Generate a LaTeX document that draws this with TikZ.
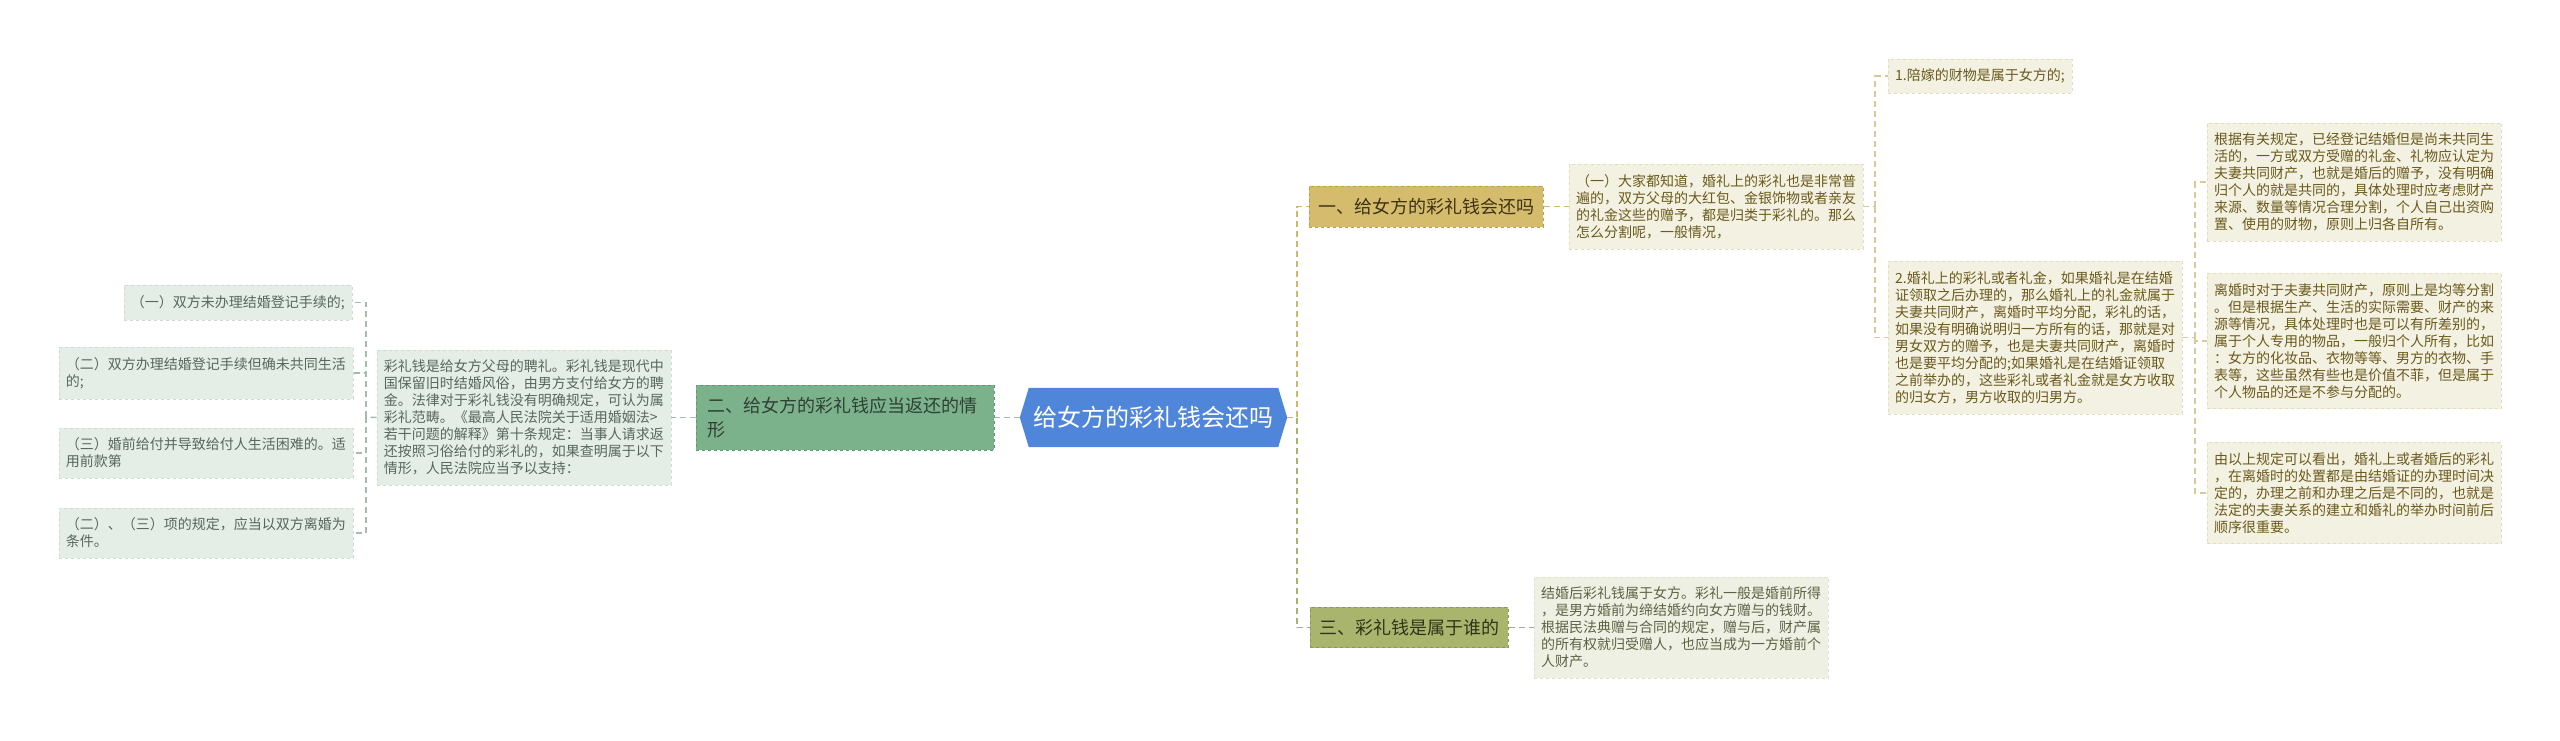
\documentclass[tikz,border=0pt]{standalone}
\usepackage{fontspec}
\usepackage{xcolor}
\usepackage{tikz}
\usetikzlibrary{positioning,backgrounds}
\newfontfamily\cjk{Noto Sans CJK SC}
\definecolor{tblue}{HTML}{4F86DA}
\definecolor{tgreen}{HTML}{7BB28C}
\definecolor{tgreenD}{HTML}{5E9870}
\definecolor{tgreenT}{HTML}{2F4034}
\definecolor{tgold}{HTML}{D5BC6C}
\definecolor{tgoldD}{HTML}{B99E4E}
\definecolor{tgoldT}{HTML}{3D3116}
\definecolor{tolive}{HTML}{A9B46C}
\definecolor{toliveD}{HTML}{8C9750}
\definecolor{toliveT}{HTML}{2F3419}
\definecolor{tmint}{HTML}{E5EDE7}
\definecolor{tmintD}{HTML}{CCDCD1}
\definecolor{tmintT}{HTML}{56685B}
\definecolor{tsand}{HTML}{F3F1E2}
\definecolor{tsandD}{HTML}{E3DDBE}
\definecolor{tsandT}{HTML}{6B5A1C}
\definecolor{tpale}{HTML}{EFF0E4}
\definecolor{tpaleD}{HTML}{DFE1CC}
\definecolor{tpaleT}{HTML}{5C6343}
\definecolor{tlnG}{HTML}{A3BDAA}
\definecolor{tlnY}{HTML}{CDB86E}
\definecolor{tlnO}{HTML}{A7B26F}
\definecolor{tlnS}{HTML}{D6CA98}

\begin{document}
\begin{tikzpicture}[x=1pt, y=-1pt, node distance=25pt,
  txt/.style={font=\cjk\fontsize{14}{17}\selectfont, align=left, inner xsep=7pt, inner ysep=10pt},
  lf/.style={txt, fill=tmint, draw=tmintD, dashed, text=tmintT},
  rf/.style={txt, fill=tsand, draw=tsandD, dashed, text=tsandT},
  br/.style={font=\cjk\fontsize{18}{24}\selectfont, align=left, inner xsep=9pt, inner ysep=12pt, dashed, line width=0.8pt},
  ln/.style={dash pattern=on 6pt off 4pt, line width=1.5pt}]
\useasboundingbox (0,0) rectangle (2560,740);
% centre
\node[font=\cjk\fontsize{24}{28}\selectfont, text=white, inner sep=0pt,
  minimum width=249pt, minimum height=59pt] (root) at (1153.5,417.5) {给女方的彩礼钱会还吗};
\begin{scope}[on background layer]
\fill[white] (0,0) rectangle (2560,740);
\fill[tblue] ([xshift=-9pt]root.west) -- (root.north west) -- (root.north east)
  -- ([xshift=9pt]root.east) -- (root.south east) -- (root.south west) -- cycle;
\end{scope}
\coordinate (rl) at ([xshift=-9pt]root.west);
\coordinate (rr) at ([xshift=9pt]root.east);
% left: returning the gift
\node[br, fill=tgreen, draw=tgreenD, text=tgreenT, text width=276pt, inner xsep=11pt,
  left=34pt of root] (g) {二、给女方的彩礼钱应当返还的情\\形};
\node[lf, left=25pt of g] (dl) {彩礼钱是给女方父母的聘礼。彩礼钱是现代中\\国保留旧时结婚风俗，由男方支付给女方的聘\\金。法律对于彩礼钱没有明确规定，可认为属\\彩礼范畴。《最高人民法院关于适用婚姻法>\\若干问题的解释》第十条规定：当事人请求返\\还按照习俗给付的彩礼的，如果查明属于以下\\情形，人民法院应当予以支持：};
\node[lf, anchor=east] (l1) at (352,302.5) {（一）双方未办理结婚登记手续的;};
\node[lf, anchor=east] (l2) at (353,373) {（二）双方办理结婚登记手续但确未共同生活\\的;};
\node[lf, anchor=east] (l3) at (353,453) {（三）婚前给付并导致给付人生活困难的。适\\用前款第};
\node[lf, anchor=east] (l4) at (353,533) {（二）、（三）项的规定，应当以双方离婚为\\条件。};
\coordinate (t0) at (366,417);
\draw[ln, tlnG] (rl) -- (g.east);
\draw[ln, tlnG] (g.west) -- (dl.east);
\draw[ln, tlnG] (dl.west) -- (t0);
\foreach \n in {l1,l2,l3,l4} \draw[ln, tlnG] (t0) |- (\n.east);
% right: does it go back
\node[br, fill=tgold, draw=tgoldD, text=tgoldT, anchor=west] (b1) at (1309,206.5) {一、给女方的彩礼钱会还吗};
\node[rf, right=25pt of b1] (d1) {（一）大家都知道，婚礼上的彩礼也是非常普\\遍的，双方父母的大红包、金银饰物或者亲友\\的礼金这些的赠予，都是归类于彩礼的。那么\\怎么分割呢，一般情况，};
\node[rf, anchor=west] (r1) at (1888,76) {1.陪嫁的财物是属于女方的;};
\node[rf, anchor=west] (r2) at (1888,337.5) {2.婚礼上的彩礼或者礼金，如果婚礼是在结婚\\证领取之后办理的，那么婚礼上的礼金就属于\\夫妻共同财产，离婚时平均分配，彩礼的话，\\如果没有明确说明归一方所有的话，那就是对\\男女双方的赠予，也是夫妻共同财产，离婚时\\也是要平均分配的;如果婚礼是在结婚证领取\\之前举办的，这些彩礼或者礼金就是女方收取\\的归女方，男方收取的归男方。};
\node[rf, anchor=west] (s1) at (2207,182) {根据有关规定，已经登记结婚但是尚未共同生\\活的，一方或双方受赠的礼金、礼物应认定为\\夫妻共同财产，也就是婚后的赠予，没有明确\\归个人的就是共同的，具体处理时应考虑财产\\来源、数量等情况合理分割，个人自己出资购\\置、使用的财物，原则上归各自所有。};
\node[rf, anchor=west] (s2) at (2207,341) {离婚时对于夫妻共同财产，原则上是均等分割\\。但是根据生产、生活的实际需要、财产的来\\源等情况，具体处理时也是可以有所差别的，\\属于个人专用的物品，一般归个人所有，比如\\：女方的化妆品、衣物等等、男方的衣物、手\\表等，这些虽然有些也是价值不菲，但是属于\\个人物品的还是不参与分配的。};
\node[rf, anchor=west] (s3) at (2207,493) {由以上规定可以看出，婚礼上或者婚后的彩礼\\，在离婚时的处置都是由结婚证的办理时间决\\定的，办理之前和办理之后是不同的，也就是\\法定的夫妻关系的建立和婚礼的举办时间前后\\顺序很重要。};
% right: whose money
\node[br, fill=tolive, draw=toliveD, text=toliveT, anchor=west] (b3) at (1310,627.5) {三、彩礼钱是属于谁的};
\node[txt, fill=tpale, draw=tpaleD, dashed, text=tpaleT, right=25pt of b3] (d3) {结婚后彩礼钱属于女方。彩礼一般是婚前所得\\，是男方婚前为缔结婚约向女方赠与的钱财。\\根据民法典赠与合同的规定，赠与后，财产属\\的所有权就归受赠人，也应当成为一方婚前个\\人财产。};
\coordinate (t1) at (1297,417.5);
\coordinate (t2) at (1875,206.5);
\coordinate (t3) at (2195,337.5);
\draw[ln, tlnY] (rr) -- (t1) |- (b1.west);
\draw[ln, tlnO] (t1) |- (b3.west);
\draw[ln, tlnY] (b1.east) -- (d1.west);
\draw[ln, tlnS] (d1.east) -- (t2);
\draw[ln, tlnS] (t2) |- (r1.west);
\draw[ln, tlnS] (t2) |- (r2.west);
\draw[ln, tlnS] (r2.east) -- (t3);
\foreach \n in {s1,s2,s3} \draw[ln, tlnS] (t3) |- (\n.west);
\draw[ln, tlnO] (b3.east) -- (d3.west);
\end{tikzpicture}
\end{document}
